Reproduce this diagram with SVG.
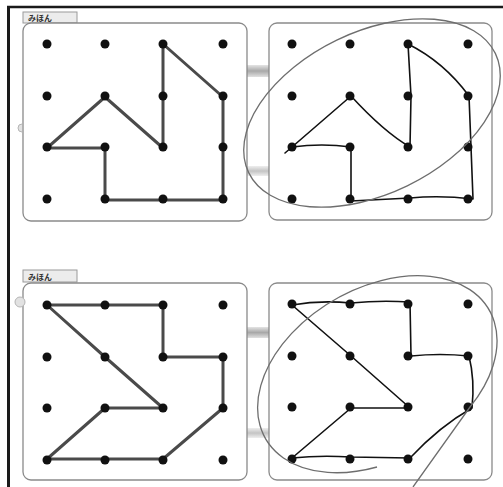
<svg xmlns="http://www.w3.org/2000/svg" width="503" height="487" viewBox="0 0 503 487">
<defs>
<linearGradient id="bar" x1="0" y1="0" x2="0" y2="1">
<stop offset="0" stop-color="#e4e4e4"/>
<stop offset="0.5" stop-color="#a8a8a8"/>
<stop offset="1" stop-color="#e0e0e0"/>
</linearGradient>
<linearGradient id="bar2" x1="0" y1="0" x2="0" y2="1">
<stop offset="0" stop-color="#eeeeee"/>
<stop offset="0.5" stop-color="#c4c4c4"/>
<stop offset="1" stop-color="#eeeeee"/>
</linearGradient>
<g id="dots">
<circle cx="0" cy="0" r="4.5"/><circle cx="58" cy="0" r="4.5"/><circle cx="116" cy="0" r="4.5"/><circle cx="176" cy="0" r="4.5"/>
<circle cx="0" cy="52" r="4.5"/><circle cx="58" cy="52" r="4.5"/><circle cx="116" cy="52" r="4.5"/><circle cx="176" cy="52" r="4.5"/>
<circle cx="0" cy="103" r="4.5"/><circle cx="58" cy="103" r="4.5"/><circle cx="116" cy="103" r="4.5"/><circle cx="176" cy="103" r="4.5"/>
<circle cx="0" cy="155" r="4.5"/><circle cx="58" cy="155" r="4.5"/><circle cx="116" cy="155" r="4.5"/><circle cx="176" cy="155" r="4.5"/>
</g>
</defs>
<style>
.panel{fill:#ffffff;stroke:#8a8a8a;stroke-width:1.3}
.tab{fill:#ececec;stroke:#9a9a9a;stroke-width:1}
.tabt{font-family:"Noto Sans CJK JP","Noto Sans",sans-serif;font-size:8px;font-weight:bold;fill:#333}
.model{fill:none;stroke:#4a4a4a;stroke-width:3;stroke-linejoin:round}
.hand{fill:none;stroke:#111;stroke-width:1.6;stroke-linejoin:round;stroke-linecap:round}
.loop{fill:none;stroke:#6e6e6e;stroke-width:1.3}
.dot{fill:#111}
.knob{fill:#e2e2e2;stroke:#b5b5b5;stroke-width:1}
</style>
<rect width="503" height="487" fill="#ffffff"/>
<g id="frame">
<line x1="8.5" y1="6" x2="8.5" y2="487" stroke="#1a1a1a" stroke-width="3"/>
<line x1="7" y1="7" x2="503" y2="7" stroke="#1a1a1a" stroke-width="2.5"/>
</g>

<!-- top row -->
<g id="bars-top">
<rect x="246" y="65" width="23" height="12" fill="url(#bar)"/>
<rect x="246" y="166" width="23" height="10" fill="url(#bar2)"/>
</g>
<g id="sample-top">
<rect class="tab" x="23" y="12" width="54" height="11"/>
<text class="tabt" x="28" y="21">みほん</text>
<rect class="panel" x="23" y="23" width="224" height="198" rx="8"/>
<path class="knob" d="M 22 124 A 4 4 0 0 0 22 132" fill="none"/>
<polygon class="model" points="163,44 223,97 223,148 223,200 163,200 105,200 105,148 47,148 105,97 163,148 163,97"/>
<use href="#dots" x="47" y="44" class="dot"/>
</g>
<g id="answer-top">
<rect class="panel" x="269" y="23" width="223" height="197" rx="8"/>
<path class="hand" d="M 408 44 Q 444 62 469 96 L 471 147 L 473 199 Q 440 195 410 198 L 351 201 L 351 147 Q 322 143 292 147 L 351 96 Q 384 132 410 147 L 411 96 L 408 44 Z M 292 147 L 285 153"/>
<use href="#dots" x="292" y="44" class="dot"/>
</g>

<!-- bottom row -->
<g id="bars-bottom">
<rect x="246" y="327" width="23" height="11" fill="url(#bar)"/>
<rect x="246" y="428" width="23" height="10" fill="url(#bar2)"/>
</g>
<g id="sample-bottom">
<rect class="tab" x="23" y="270" width="54" height="12"/>
<text class="tabt" x="28" y="279.5">みほん</text>
<rect class="panel" x="23" y="283" width="224" height="197" rx="8"/>
<circle class="knob" cx="20" cy="302" r="5"/>
<polygon class="model" points="47,305 105,305 163,305 163,357 223,357 223,408 163,459 105,459 47,459 105,408 163,408 105,357"/>
<use href="#dots" x="47" y="305" class="dot"/>
</g>
<g id="answer-bottom">
<rect class="panel" x="269" y="283" width="223" height="197" rx="8"/>
<path class="hand" d="M 292 305 Q 320 300 351 303 Q 380 300 410 302 L 411 356 Q 440 353 469 356 Q 475 380 472 408 Q 440 426 410 458 L 351 457 Q 320 455 292 458 L 351 408 L 410 408 L 351 356 Z"/>
<use href="#dots" x="292" y="304" class="dot"/>
</g>

<g id="connectors">
<ellipse class="loop" cx="372" cy="113" rx="137" ry="81" transform="rotate(-25.8 372 113)"/>
<path class="loop" d="M 377 467 A 129 86 -30 1 1 470 407 L 413 487"/>
</g>
</svg>
